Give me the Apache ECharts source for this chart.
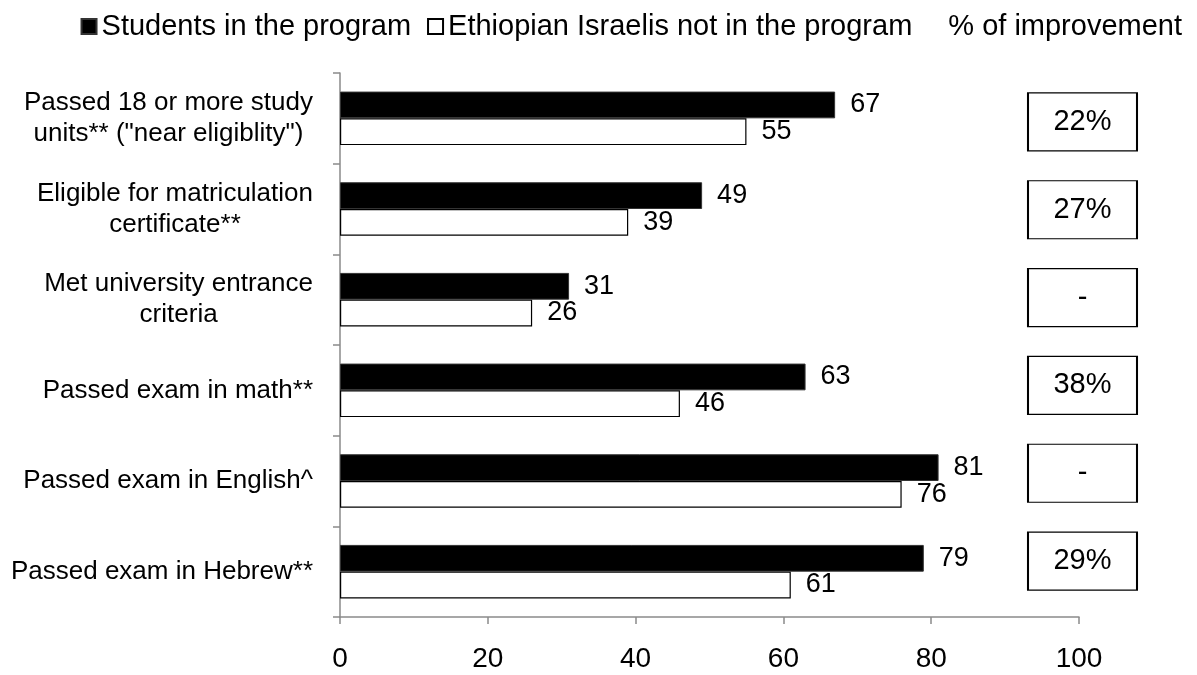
<!DOCTYPE html>
<html>
<head>
<meta charset="utf-8">
<script src="https://cdn.jsdelivr.net/npm/echarts@6/dist/echarts.min.js"></script>
<style>
html,body{margin:0;padding:0;background:#fff;}
#chart{width:1197px;height:675px;}
</style>
</head>
<body>
<div id="chart"></div>
<script>
var categories = [
  'Passed 18 or more study\nunits** ("near eligiblity")',
  'Eligible for matriculation\ncertificate**',
  'Met university entrance\ncriteria',
  'Passed exam in math**',
  'Passed exam in English^',
  'Passed exam in Hebrew**'
];
var studentsInProgram = [67, 49, 31, 63, 81, 79];
var notInProgram = [55, 39, 26, 46, 76, 61];
var improvement = ['22%', '27%', '-', '38%', '-', '29%'];
var xTicks = [0, 20, 40, 60, 80, 100];

var FONT = '"Liberation Sans", Arial, sans-serif';
var AXIS_GRAY = '#8a8a8a';

var chart = echarts.init(document.getElementById('chart'), null, {renderer: 'canvas'});

var option = {
  backgroundColor: '#fff',
  animation: false,
  textStyle: {fontFamily: FONT, color: '#000'},
  legend: {
    top: 7,
    right: 10,
    itemWidth: 15,
    itemHeight: 15,
    itemGap: 16,
    textStyle: {fontSize: 29, color: '#000', fontFamily: FONT},
    data: [
      {name: 'Students in the program', icon: 'rect'},
      {name: 'Ethiopian Israelis not in the program', icon: 'rect'},
      {name: '% of improvement', icon: 'none'}
    ],
    selectedMode: false
  },
  grid: [
    {left: 340, right: 118, top: 73, bottom: 58},
    {left: 1028, width: 109, top: 78, bottom: 70}
  ],
  xAxis: [
    {
      type: 'value',
      gridIndex: 0,
      min: xTicks[0],
      max: xTicks[xTicks.length - 1],
      interval: 20,
      splitLine: {show: false},
      axisLine: {show: true, lineStyle: {color: AXIS_GRAY, width: 1.5}},
      axisTick: {show: true, length: 7, lineStyle: {color: AXIS_GRAY, width: 1.5}},
      axisLabel: {fontSize: 28, color: '#000', margin: 28, fontFamily: FONT}
    },
    {
      type: 'value',
      gridIndex: 1,
      min: 0,
      max: 1,
      show: false
    }
  ],
  yAxis: [
    {
      type: 'category',
      gridIndex: 0,
      inverse: true,
      data: categories,
      axisLine: {show: true, lineStyle: {color: AXIS_GRAY, width: 1.5}},
      axisTick: {show: true, length: 7, lineStyle: {color: AXIS_GRAY, width: 1.5}},
      axisLabel: {
        margin: 27,
        align: 'right',
        color: '#000',
        fontFamily: FONT,
        fontSize: 26,
        lineHeight: 31,
        formatter: function (v) {
          return v.split('\n').map(function (s) { return '{c|' + s + '}'; }).join('\n');
        },
        rich: {
          c: {align: 'center', fontSize: 26, lineHeight: 31, fontFamily: FONT, color: '#000'}
        }
      }
    },
    {
      type: 'category',
      gridIndex: 1,
      inverse: true,
      data: categories,
      show: false
    }
  ],
  series: [
    {
      name: 'Students in the program',
      type: 'bar',
      xAxisIndex: 0,
      yAxisIndex: 0,
      data: studentsInProgram,
      barGap: '0%',
      barCategoryGap: '41%',
      itemStyle: {color: '#000', borderColor: '#333', borderWidth: 1},
      label: {show: true, position: 'right', distance: 15, color: '#000', fontSize: 27, fontFamily: FONT},
      emphasis: {disabled: true}
    },
    {
      name: 'Ethiopian Israelis not in the program',
      type: 'bar',
      xAxisIndex: 0,
      yAxisIndex: 0,
      data: notInProgram,
      barGap: '0%',
      barCategoryGap: '41%',
      itemStyle: {color: '#fff', borderColor: '#000', borderWidth: 1.2},
      label: {show: true, position: 'right', distance: 15, color: '#000', fontSize: 27, fontFamily: FONT},
      emphasis: {disabled: true}
    },
    {
      name: '% of improvement',
      type: 'scatter',
      xAxisIndex: 1,
      yAxisIndex: 1,
      symbol: 'rect',
      symbolSize: [109, 58],
      data: improvement.map(function (t, i) { return {value: [0.5, i], name: t}; }),
      itemStyle: {color: '#fff', borderColor: '#000', borderWidth: 1.5, opacity: 1},
      label: {
        show: true,
        position: 'inside',
        color: '#000',
        fontSize: 29,
        fontFamily: FONT,
        formatter: function (p) { return p.name; }
      },
      emphasis: {disabled: true}
    }
  ]
};
chart.setOption(option);
</script>
</body>
</html>
